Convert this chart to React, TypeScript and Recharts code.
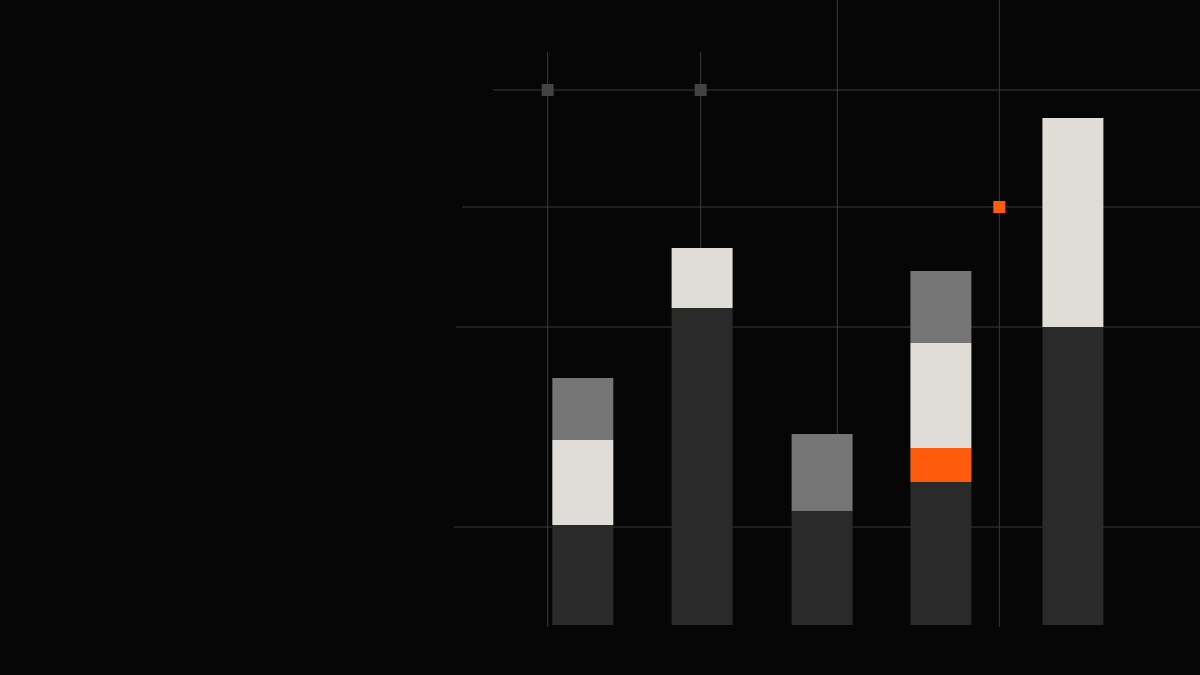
import React from "react";
import { ComposedChart, Bar, XAxis, YAxis, ReferenceLine, ReferenceDot } from "recharts";

// Bar positions on the numeric x axis
const positions = [1.006, 2, 3, 3.99, 5.09];
// Stacked segments (bottom to top)
const darkValues = [10.0, 31.7, 11.4, 14.3, 29.8];
const orangeValues = [0, 0, 0, 3.4, 0];
const lightValues = [8.5, 6.0, 0, 10.5, 20.9];
const grayValues = [6.2, 0, 7.7, 7.2, 0];

// Horizontal guide lines: level and start on x axis
const hLevels = [53.5, 41.8, 29.8, 9.8];
const hStarts = [0.258, 0.003, -0.05, -0.067];
const hEnd = 6.15;

// Vertical guide lines: x, bottom, top
const vXs = [0.714, 1.989, 3.1275, 4.4775];
const vBottoms = [-0.2, 0, 0, -0.2];
const vTops = [57.3, 57.3, 62.5, 62.5];

// Marker squares
const markerXs = [0.714, 1.989, 4.4775];
const markerYs = [53.5, 53.5, 41.8];
const markerKinds = ["gray", "gray", "orange"];

const X_DOMAIN: [number, number] = [-3.85, 6.15];
const Y_DOMAIN: [number, number] = [0, 62.5];

const COLORS = {
  bg: "#060606",
  dark: "#2a2a2a",
  orange: "#ff5b0d",
  light: "#e0ddd9",
  gray: "#757575",
  grid: "#3a3a3a",
  marker: "#424242",
};

const data = positions.map((x, i) => ({
  x,
  dark: darkValues[i],
  orange: orangeValues[i],
  light: lightValues[i],
  gray: grayValues[i],
}));

const squareShape = (fill: string) => (props: any) => {
  const { cx, cy } = props;
  if (cx == null || cy == null) return <g />;
  return <rect x={cx - 6} y={cy - 6} width={12} height={12} fill={fill} />;
};

export default function App() {
  return (
    <div
      style={{
        position: "absolute",
        top: 0,
        left: 0,
        width: 1200,
        height: 675,
        background: COLORS.bg,
        overflow: "hidden",
      }}
    >
      <ComposedChart
        width={1200}
        height={675}
        data={data}
        margin={{ top: 0, right: 0, bottom: 50, left: 0 }}
        barGap={0}
      >
        <XAxis
          dataKey="x"
          type="number"
          domain={X_DOMAIN}
          allowDataOverflow
          hide
          ticks={positions}
        />
        <YAxis type="number" domain={Y_DOMAIN} allowDataOverflow hide />

        {hLevels.map((y, i) => (
          <ReferenceLine
            key={`h${i}`}
            segment={[
              { x: hStarts[i], y },
              { x: hEnd, y },
            ]}
            stroke={COLORS.grid}
            strokeWidth={1}
            ifOverflow="visible"
            zIndex={-10}
          />
        ))}
        {vXs.map((x, i) => (
          <ReferenceLine
            key={`v${i}`}
            segment={[
              { x, y: vBottoms[i] },
              { x, y: vTops[i] },
            ]}
            stroke={COLORS.grid}
            strokeWidth={1}
            ifOverflow="visible"
            zIndex={-10}
          />
        ))}

        <Bar dataKey="dark" stackId="s" fill={COLORS.dark} barSize={61} isAnimationActive={false} />
        <Bar dataKey="orange" stackId="s" fill={COLORS.orange} barSize={61} isAnimationActive={false} />
        <Bar dataKey="light" stackId="s" fill={COLORS.light} barSize={61} isAnimationActive={false} />
        <Bar dataKey="gray" stackId="s" fill={COLORS.gray} barSize={61} isAnimationActive={false} />

        {markerXs.map((x, i) => (
          <ReferenceDot
            key={`m${i}`}
            x={x}
            y={markerYs[i]}
            r={6}
            ifOverflow="visible"
            shape={squareShape(markerKinds[i] === "orange" ? COLORS.orange : COLORS.marker)}
          />
        ))}
      </ComposedChart>
    </div>
  );
}
